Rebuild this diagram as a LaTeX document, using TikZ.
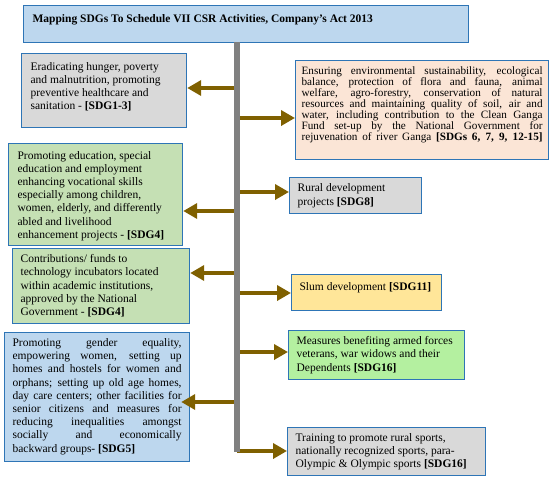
\documentclass[tikz,border=0pt]{standalone}
\usepackage{fontspec}
\setmainfont{Liberation Serif}
\usetikzlibrary{arrows.meta}

\definecolor{frameblue}{RGB}{46,117,182}
\definecolor{titlefill}{RGB}{189,215,238}
\definecolor{greyfill}{RGB}{217,217,217}
\definecolor{greenfill}{RGB}{197,224,180}
\definecolor{peachfill}{RGB}{251,229,214}
\definecolor{yellowfill}{RGB}{255,230,153}
\definecolor{limefill}{RGB}{180,240,160}
\definecolor{arrowbrown}{RGB}{127,96,0}
\definecolor{spinegrey}{RGB}{128,128,128}

% text block of fixed width and height, set from the top
\newcommand{\sdgtext}[3]{\parbox[t][#2][t]{#1}{#3}}
\hbadness=10000
\vbadness=10000

\tikzset{
  sdgbox/.style={draw=frameblue, line width=1.2pt, anchor=north west,
    inner xsep=8pt, inner ysep=7pt, font=\fontsize{11.5}{13.2}\selectfont},
  sdgarrow/.style={arrowbrown, line width=4pt, -{Triangle[length=14pt,width=15pt]}},
  spine/.style={spinegrey, line width=6pt}
}

\begin{document}
\begin{tikzpicture}[x=1pt,y=-1pt]

	\useasboundingbox (0,0) rectangle (550,479);

	% title
	\node[sdgbox, fill=titlefill, inner xsep=9pt, inner ysep=8.5pt] (title) at (23,5)
		{\sdgtext{427pt}{20pt}{\textbf{Mapping SDGs To Schedule VII CSR Activities, Company’s Act 2013}}};

	% left column
	\node[sdgbox, fill=greyfill, inner xsep=9pt, inner ysep=8.5pt] (hunger) at (21,53)
		{\sdgtext{147pt}{57pt}{Eradicating hunger, poverty\\ and malnutrition, promoting\\ preventive healthcare and\\ sanitation - \textbf{[SDG1-3]}}};

	\node[sdgbox, fill=greenfill, inner xsep=9pt, inner ysep=7.5pt] (education) at (8,143)
		{\sdgtext{156pt}{87pt}{Promoting education, special\\ education and employment\\ enhancing vocational skills\\ especially among children,\\ women, elderly, and differently\\ abled and livelihood\\ enhancement projects - \textbf{[SDG4]}}};

	\node[sdgbox, fill=greenfill, inner ysep=6pt] (incubators) at (12,248)
		{\sdgtext{161pt}{63pt}{Contributions/ funds to\\ technology incubators located\\ within academic institutions,\\ approved by the National\\ Government - \textbf{[SDG4]}}};

	\node[sdgbox, fill=titlefill, inner ysep=6pt] (gender) at (4,332)
		{\sdgtext{169pt}{117pt}{Promoting gender equality,\linebreak empowering women, setting up\linebreak homes and hostels for women and\linebreak orphans; setting up old age homes,\linebreak day care centers; other facilities for\linebreak senior citizens and measures for\linebreak reducing inequalities amongst\linebreak socially and economically\linebreak backward groups- \textbf{[SDG5]}}};

	% right column
	\node[sdgbox, fill=peachfill, inner xsep=6pt, inner ysep=6pt, font=\fontsize{11.2}{11}\selectfont] (environment) at (295,60)
		{\sdgtext{241pt}{87pt}{\parfillskip=0pt Ensuring environmental sustainability, ecological\linebreak balance, protection of flora and fauna, animal\linebreak welfare, agro-forestry, conservation of natural\linebreak resources and maintaining quality of soil, air and\linebreak water, including contribution to the Clean Ganga\linebreak Fund set-up by the National Government for\linebreak rejuvenation of river Ganga \textbf{[SDGs 6, 7, 9, 12-15]}}};

	\node[sdgbox, fill=greyfill, inner ysep=6.4pt] (rural) at (289,177)
		{\sdgtext{116pt}{23.2pt}{Rural development\\ projects \textbf{[SDG8]}}};

	\node[sdgbox, fill=yellowfill, inner ysep=8pt] (slum) at (291,274)
		{\sdgtext{134pt}{20pt}{Slum development \textbf{[SDG11]}}};

	\node[sdgbox, fill=limefill, inner ysep=6pt] (armed) at (288,330)
		{\sdgtext{160pt}{37pt}{Measures benefiting armed forces\\ veterans, war widows and their\\ Dependents \textbf{[SDG16]}}};

	\node[sdgbox, fill=greyfill, inner ysep=5.5pt] (sports) at (287,427)
		{\sdgtext{182pt}{37pt}{Training to promote rural sports,\\ nationally recognized sports, para-\\ Olympic \& Olympic sports \textbf{[SDG16]}}};

	% points on the spine
	\coordinate (spinetop) at (237,42);
	\coordinate (spineend) at (237,452);
	\coordinate (j1) at (237,88);
	\coordinate (j2) at (237,118);
	\coordinate (j3) at (237,192);
	\coordinate (j4) at (237,211);
	\coordinate (j5) at (237,273);
	\coordinate (j6) at (237,293);
	\coordinate (j7) at (237,352);
	\coordinate (j8) at (237,402);
	\coordinate (j9) at (237,451);

	% arrows to the left
	\draw[sdgarrow] (j1) -- (j1 -| hunger.east);
	\draw[sdgarrow] (j4) -- (j4 -| education.east);
	\draw[sdgarrow] (j5) -- (j5 -| incubators.east);
	\draw[sdgarrow] (j8) -- ([xshift=-9pt]j8 -| gender.east);

	% arrows to the right
	\draw[sdgarrow] (j2) -- (j2 -| environment.west);
	\draw[sdgarrow] (j3) -- (j3 -| rural.west);
	\draw[sdgarrow] (j6) -- (j6 -| slum.west);
	\draw[sdgarrow] (j7) -- (j7 -| armed.west);
	\draw[sdgarrow] (j9) -- (j9 -| sports.west);

	% the spine
	\draw[spine] (spinetop) -- (spineend);

\end{tikzpicture}
\end{document}
